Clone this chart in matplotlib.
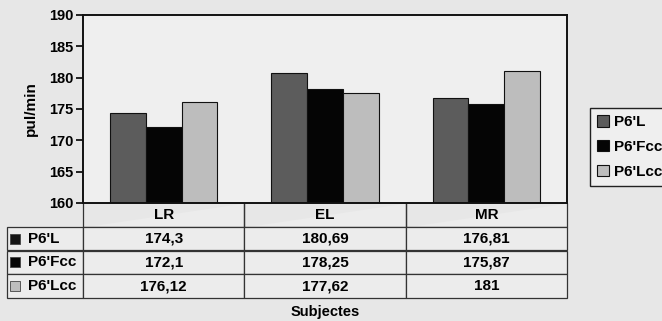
import numpy as np
import matplotlib.pyplot as plt
from matplotlib.patches import Rectangle

subjects = ['LR', 'EL', 'MR']
series = ["P6'L", "P6'Fcc", "P6'Lcc"]
p6_l = [174.3, 180.69, 176.81]
p6_fcc = [172.1, 178.25, 175.87]
p6_lcc = [176.12, 177.62, 181]
yticks = [160, 165, 170, 175, 180, 185, 190]

bar_colors = ['#5c5c5c', '#050505', '#bdbdbd']
key_colors = ['#151515', '#050505', '#bdbdbd']

plt.rcParams['font.family'] = ['Liberation Sans', 'DejaVu Sans']
plt.rcParams['font.weight'] = 'bold'
plt.rcParams['axes.labelweight'] = 'bold'
plt.rcParams['font.size'] = 10


def fmt(v):
	return ('%g' % v).replace('.', ',')


def main():
	fig = plt.figure(figsize=(6.62, 3.21), dpi=100, facecolor='#e7e7e7')
	ax = fig.add_axes([83 / 662, 1 - 203 / 321, 484 / 662, 188 / 321])
	ax.set_facecolor('#efefef')

	x = np.arange(len(subjects))
	w = 0.222
	values = [p6_l, p6_fcc, p6_lcc]
	bars = []
	for i, vals in enumerate(values):
		b = ax.bar(x + (i - 1) * w, np.array(vals) - 160, w, bottom=160,
			color=bar_colors[i], edgecolor='#111111', linewidth=0.8, label=series[i])
		bars.append(b)

	ax.set_xlim(-0.5, 2.5)
	ax.set_ylim(160, 190)
	ax.set_yticks(yticks)
	ax.set_xticks([])
	ax.tick_params(axis='y', direction='out', length=5, width=1.2, pad=2, labelsize=10.5)
	for s in ax.spines.values():
		s.set_linewidth(1.4)
		s.set_color('#111111')

	ax.set_ylabel('pul/min', fontsize=11)
	ax.yaxis.set_label_coords(-45 / 484, 0.5)

	# data table under the plot
	cell_text = [[series[i]] + [fmt(v) for v in values[i]] for i in range(3)]
	tbl = ax.table(cellText=cell_text, colLabels=[''] + subjects,
		colWidths=[76, 161, 161, 161], cellLoc='center',
		bbox=[-76 / 484, -95 / 188, 560 / 484, 95 / 188])
	tbl.auto_set_font_size(False)
	tbl.set_fontsize(11)
	for (r, c), cell in tbl.get_celld().items():
		cell.set_facecolor('#ececec')
		cell.set_edgecolor('#333333')
		cell.set_linewidth(0.9)
		cell.get_text().set_fontweight('bold')
		if c == 0:
			cell.PAD = 0.27
			cell.get_text().set_horizontalalignment('left')
			cell._loc = 'left'
		if r == 0 and c == 0:
			cell.visible_edges = ''
			cell.set_facecolor('none')
		if r == 0 and c > 0:
			cell.visible_edges = 'LRB'

	# colour keys in the row labels
	row_h = 95 / 4
	for i in range(3):
		yc = 203 + row_h * (i + 1.5)
		ax.add_patch(Rectangle(((10 - 83) / 484, -(yc + 5) / 188 + 203 / 188),
			10 / 484, 10 / 188, transform=ax.transAxes, clip_on=False,
			facecolor=key_colors[i], edgecolor='#444444', linewidth=0.6))

	fig.text(325 / 662, 1 - 312 / 321, 'Subjectes', ha='center', va='center', fontsize=10.5)

	fig.legend(handles=bars, labels=series, loc='upper left',
		bbox_to_anchor=(590 / 662, 1 - 108 / 321), frameon=True, fancybox=False,
		edgecolor='#222222', facecolor='#efefef', framealpha=1,
		handlelength=0.8, handleheight=0.8, handletextpad=0.3,
		borderpad=0.45, labelspacing=0.7, borderaxespad=0, fontsize=11)

	fig.savefig('out.png', dpi=100, facecolor=fig.get_facecolor())


if __name__ == "__main__":
	main()
